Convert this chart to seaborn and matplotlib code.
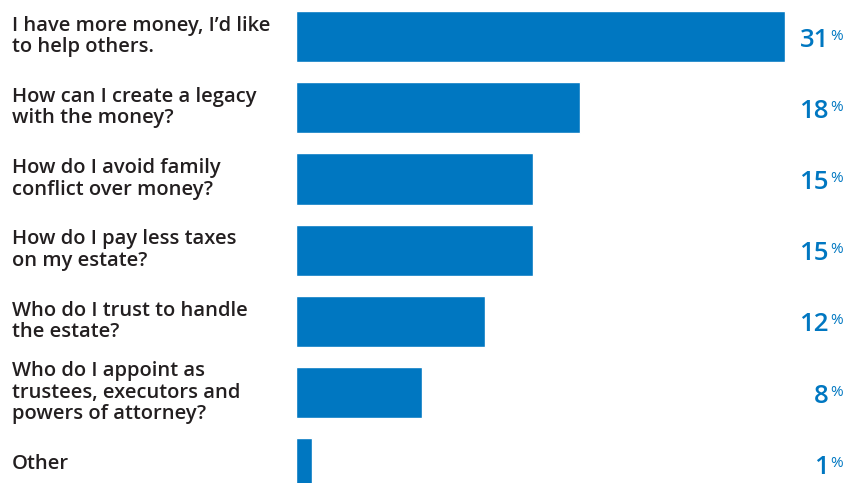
import matplotlib
matplotlib.use("Agg")
import matplotlib.pyplot as plt
import seaborn as sns
import pandas as pd

# Survey responses: top estate-planning questions
questions = [
    "I have more money, I\u2019d like\nto help others.",
    "How can I create a legacy\nwith the money?",
    "How do I avoid family\nconflict over money?",
    "How do I pay less taxes\non my estate?",
    "Who do I trust to handle\nthe estate?",
    "Who do I appoint as\ntrustees, executors and\npowers of attorney?",
    "Other",
]
shares = [31, 18, 15, 15, 12, 8, 1]

BLUE = "#0077C1"
TEXT = "#231F20"

sns.set_theme(style="white")
plt.rcParams["font.family"] = ["Open Sans", "DejaVu Sans"]

df = pd.DataFrame({"question": questions, "share": shares})

fig = plt.figure(figsize=(8.45, 4.83), dpi=100)
W, H = 845, 483
left_px, right_px = 296, 845
ax = fig.add_axes([left_px / W, 0, (right_px - left_px) / W, 1])

sns.barplot(data=df, x="share", y="question", orient="h", color=BLUE,
            saturation=1, width=0.72, ax=ax)

px_per_unit = (785 - 296) / 31
ax.set_xlim(0, (right_px - left_px) / px_per_unit)
ax.set_ylim(6.27, -0.513)
ax.set_axis_off()

ytr = ax.get_yaxis_transform()
label_x = (12 - left_px) / (right_px - left_px)
value_x = (829 - left_px) / (right_px - left_px)

for i, (q, v) in enumerate(zip(questions, shares)):
    ax.text(label_x, i, q, transform=ytr, ha="left", va="center",
            fontsize=14.5, fontweight="semibold", color=TEXT,
            linespacing=1.09, clip_on=False)
    ax.annotate(f"{v}", xy=(value_x, i), xycoords=ytr, xytext=(0, -7.3),
                textcoords="offset points", ha="right", va="baseline",
                fontsize=18.5, fontweight="semibold", color=BLUE,
                annotation_clip=False)
    ax.annotate("%", xy=(value_x, i), xycoords=ytr, xytext=(0.8, -2.2),
                textcoords="offset points", ha="left", va="baseline",
                fontsize=11, color=BLUE, annotation_clip=False)

fig.savefig("out.png", dpi=100)
